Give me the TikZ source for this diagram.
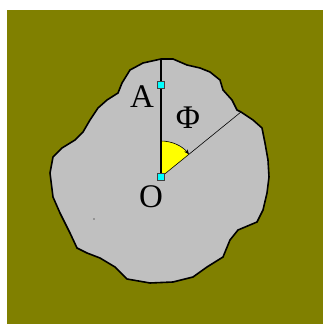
\documentclass[tikz,border=0pt]{standalone}
\usepackage{fontspec}
\setmainfont{Liberation Serif}
\usetikzlibrary{arrows.meta}
\definecolor{olivebg}{RGB}{128,128,0}
\definecolor{stonegray}{RGB}{192,192,192}
\definecolor{pointcyan}{RGB}{0,255,255}
\definecolor{sectoryellow}{RGB}{255,255,0}

\begin{document}
\begin{tikzpicture}[x=1pt, y=1pt,
  ptmark/.style={draw=black!75, fill=pointcyan, minimum size=7pt, inner sep=0pt, line width=0.6pt},
  lbl/.style={font=\fontsize{33}{33}\selectfont, inner sep=0pt}]
  \useasboundingbox (0,0) rectangle (323,324);
  \fill[olivebg] (7,0) rectangle (323,314);
  % outline of the body
  \draw[line width=1.6pt, line join=round, fill=stonegray]
    (161,265) -- (173,265) -- (187,259) -- (200,256) -- (210,252) -- (220,244)
    -- (223,234) -- (232,224) -- (237,214) -- (241,212) -- (253,204) -- (262,196)
    -- (265,181) -- (268,164) -- (269,147) -- (267,131) -- (263,114) -- (257,102)
    -- (238,94) -- (230,84) -- (223,67) -- (207,57) -- (193,47) -- (173,42)
    -- (150,41) -- (127,45) -- (115,57) -- (100,66) -- (87,71) -- (77,76)
    -- (70,91) -- (60,111) -- (53,127) -- (50,151) -- (53,167) -- (62,176)
    -- (75,184) -- (83,192) -- (90,204) -- (98,216) -- (107,224) -- (118,231)
    -- (122,241) -- (130,254) -- (143,261) -- cycle;
  \fill (94,105) circle (0.7);
  \coordinate (rim) at (161,265);
  \coordinate (edge) at (241,212);
  \coordinate (O0) at (161,147);
  % angle sector
  \fill[sectoryellow] (O0) -- ++(90:36) arc[start angle=90, end angle=39, radius=36] -- cycle;
  \draw[line width=0.6pt, -{Stealth[length=5pt, width=4pt]}] (O0) ++(90:36) arc[start angle=90, end angle=39, radius=36];
  \draw[line width=0.6pt] (O0) -- (edge);
  \draw[line width=1.5pt] (O0) -- (rim);
  \node[ptmark] (O) at (O0) {};
  \node[ptmark] (A) at (161,239) {};
  \node[lbl] (labA) at (142,227) {A};
  \node[lbl] (labPhi) at (188,206) {Φ};
  \node[lbl] (labO) at (151,127) {O};
\end{tikzpicture}
\end{document}
